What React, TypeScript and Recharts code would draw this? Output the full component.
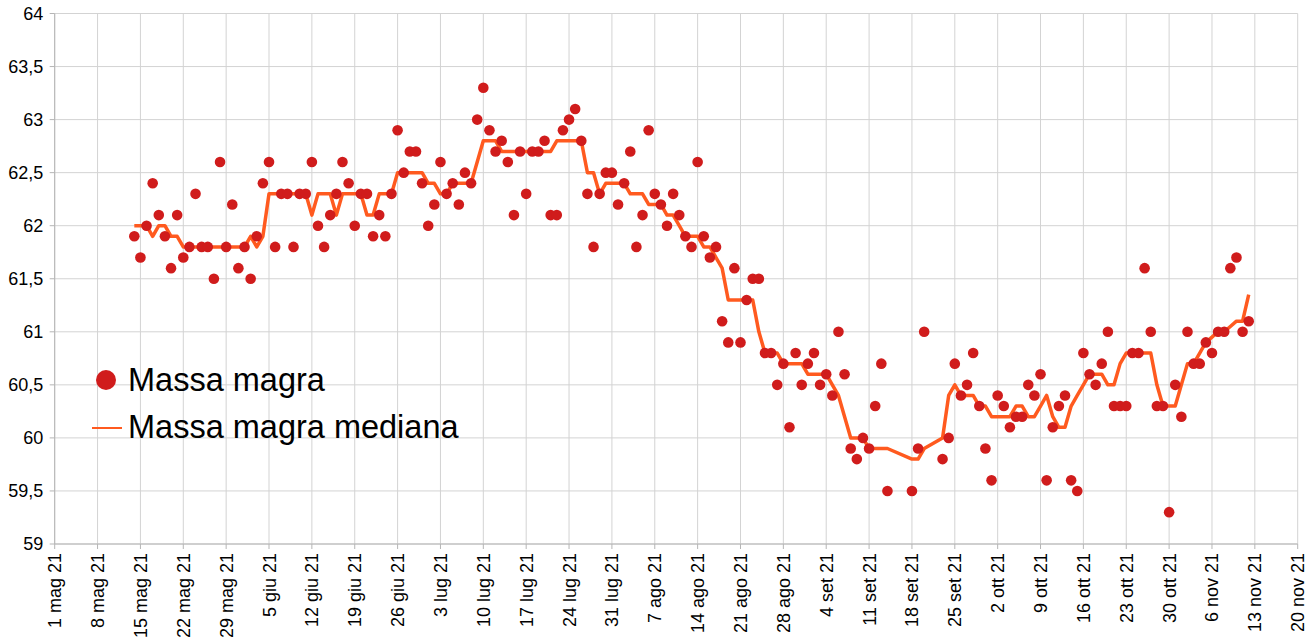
import React from "react";
import { CartesianGrid, ComposedChart, Legend, Line, Scatter, XAxis, YAxis } from "recharts";

const FONT = "'Liberation Sans', Arial, sans-serif";
const DOT_COLOR = "#d01c1c";
const LINE_COLOR = "#ff5a1f";
const GRID_COLOR = "#d3d3d3";
const AXIS_COLOR = "#b5b5b5";

// giorni contati dal 1 mag 21
const days = [
  13, 14, 15, 16, 17, 18, 19, 20, 21, 22,
  23, 24, 25, 26, 27, 28, 29, 30, 31, 32,
  33, 34, 35, 36, 37, 38, 39, 40, 41, 42,
  43, 44, 45, 46, 47, 48, 49, 50, 51, 52,
  53, 54, 55, 56, 57, 58, 59, 60, 61, 62,
  63, 64, 65, 66, 67, 68, 69, 70, 71, 72,
  73, 74, 75, 76, 77, 78, 79, 80, 81, 82,
  83, 84, 85, 86, 87, 88, 89, 90, 91, 92,
  93, 94, 95, 96, 97, 98, 99, 100, 101, 102,
  103, 104, 105, 106, 107, 108, 109, 110, 111, 112,
  113, 114, 115, 116, 117, 118, 119, 120, 121, 122,
  123, 124, 125, 126, 127, 128, 129, 130, 131, 132,
  133, 134, 135, 136,
  140, 141, 142,
  145, 146, 147, 148, 149, 150, 151, 152, 153, 154,
  155, 156, 157, 158, 159, 160, 161, 162, 163, 164,
  165, 166, 167, 168, 169, 170, 171, 172, 173, 174,
  175, 176, 177, 178, 179, 180, 181, 182, 183, 184,
  185, 186, 187, 188, 189, 190, 191, 192, 193, 194, 195,
];

const leanMass = [
  61.9, 61.7, 62.0, 62.4, 62.1, 61.9, 61.6, 62.1, 61.7, 61.8,
  62.3, 61.8, 61.8, 61.5, 62.6, 61.8, 62.2, 61.6, 61.8, 61.5,
  61.9, 62.4, 62.6, 61.8, 62.3, 62.3, 61.8, 62.3, 62.3, 62.6,
  62.0, 61.8, 62.1, 62.3, 62.6, 62.4, 62.0, 62.3, 62.3, 61.9,
  62.1, 61.9, 62.3, 62.9, 62.5, 62.7, 62.7, 62.4, 62.0, 62.2,
  62.6, 62.3, 62.4, 62.2, 62.5, 62.4, 63.0, 63.3, 62.9, 62.7,
  62.8, 62.6, 62.1, 62.7, 62.3, 62.7, 62.7, 62.8, 62.1, 62.1,
  62.9, 63.0, 63.1, 62.8, 62.3, 61.8, 62.3, 62.5, 62.5, 62.2,
  62.4, 62.7, 61.8, 62.1, 62.9, 62.3, 62.2, 62.0, 62.3, 62.1,
  61.9, 61.8, 62.6, 61.9, 61.7, 61.8, 61.1, 60.9, 61.6, 60.9,
  61.3, 61.5, 61.5, 60.8, 60.8, 60.5, 60.7, 60.1, 60.8, 60.5,
  60.7, 60.8, 60.5, 60.6, 60.4, 61.0, 60.6, 59.9, 59.8, 60.0,
  59.9, 60.3, 60.7, 59.5,
  59.5, 59.9, 61.0,
  59.8, 60.0, 60.7, 60.4, 60.5, 60.8, 60.3, 59.9, 59.6, 60.4,
  60.3, 60.1, 60.2, 60.2, 60.5, 60.4, 60.6, 59.6, 60.1, 60.3,
  60.4, 59.6, 59.5, 60.8, 60.6, 60.5, 60.7, 61.0, 60.3, 60.3,
  60.3, 60.8, 60.8, 61.6, 61.0, 60.3, 60.3, 59.3, 60.5, 60.2,
  61.0, 60.7, 60.7, 60.9, 60.8, 61.0, 61.0, 61.6, 61.7, 61.0, 61.1,
];

const leanMassMedian = [
  62.0, 62.0, 62.0, 61.9, 62.0, 62.0, 61.9, 61.9, 61.8, 61.8,
  61.8, 61.8, 61.8, 61.8, 61.8, 61.8, 61.8, 61.8, 61.8, 61.9,
  61.8, 61.9, 62.3, 62.3, 62.3, 62.3, 62.3, 62.3, 62.3, 62.1,
  62.3, 62.3, 62.3, 62.1, 62.3, 62.3, 62.3, 62.3, 62.1, 62.1,
  62.3, 62.3, 62.3, 62.5, 62.5, 62.5, 62.5, 62.5, 62.4, 62.4,
  62.3, 62.3, 62.4, 62.4, 62.4, 62.4, 62.6, 62.8, 62.8, 62.8,
  62.7, 62.7, 62.7, 62.7, 62.7, 62.7, 62.7, 62.7, 62.7, 62.8,
  62.8, 62.8, 62.8, 62.8, 62.5, 62.5, 62.3, 62.4, 62.4, 62.4,
  62.4, 62.3, 62.3, 62.3, 62.2, 62.2, 62.2, 62.1, 62.1, 62.0,
  61.9, 61.9, 61.9, 61.8, 61.8, 61.7, 61.6, 61.3, 61.3, 61.3,
  61.3, 61.3, 61.0, 60.8, 60.8, 60.8, 60.7, 60.7, 60.7, 60.7,
  60.6, 60.6, 60.6, 60.6, 60.5, 60.4, 60.2, 60.0, 60.0, 60.0,
  59.9, 59.9, 59.9, 59.9,
  59.8, 59.8, 59.9,
  60.0, 60.4, 60.5, 60.4, 60.4, 60.4, 60.3, 60.3, 60.2, 60.2,
  60.2, 60.2, 60.3, 60.3, 60.2, 60.2, 60.3, 60.4, 60.2, 60.1,
  60.1, 60.3, 60.4, 60.5, 60.6, 60.6, 60.6, 60.5, 60.5, 60.7,
  60.8, 60.8, 60.8, 60.8, 60.8, 60.5, 60.3, 60.3, 60.3, 60.5,
  60.7, 60.7, 60.8, 60.9, 60.95, 61.0, 61.0, 61.05, 61.1, 61.1, 61.35,
];

const xTicks = [0, 7, 14, 21, 28, 35, 42, 49, 56, 63, 70, 77, 84, 91, 98, 105, 112, 119, 126, 133, 140, 147, 154, 161, 168, 175, 182, 189, 196, 203];
const xTickLabels = [
  "1 mag 21", "8 mag 21", "15 mag 21", "22 mag 21", "29 mag 21",
  "5 giu 21", "12 giu 21", "19 giu 21", "26 giu 21",
  "3 lug 21", "10 lug 21", "17 lug 21", "24 lug 21", "31 lug 21",
  "7 ago 21", "14 ago 21", "21 ago 21", "28 ago 21",
  "4 set 21", "11 set 21", "18 set 21", "25 set 21",
  "2 ott 21", "9 ott 21", "16 ott 21", "23 ott 21", "30 ott 21",
  "6 nov 21", "13 nov 21", "20 nov 21",
];
const yTicks = [59, 59.5, 60, 60.5, 61, 61.5, 62, 62.5, 63, 63.5, 64];

const data = days.map((day, i) => ({ day, mass: leanMass[i], median: leanMassMedian[i] }));

function DateTick(props: any) {
  const { x, y, payload } = props;
  const label = xTickLabels[xTicks.indexOf(payload.value)] ?? "";
  return (
    <text
      x={0}
      y={0}
      transform={`translate(${x + 6.5},${y + 2}) rotate(-90)`}
      textAnchor="end"
      fontSize={18}
      fontFamily={FONT}
      fill="#000"
    >
      {label}
    </text>
  );
}

function Dot(props: any) {
  const { cx, cy } = props;
  if (cx == null || cy == null) return null;
  return <circle cx={cx} cy={cy} r={5.3} fill={DOT_COLOR} />;
}

function LegendBox() {
  return (
    <svg width={430} height={100} style={{ display: "block" }}>
      <circle cx={26} cy={30} r={10} fill={DOT_COLOR} />
      <text x={48} y={41} fontSize={32.5} fontFamily={FONT} fill="#000">
        Massa magra
      </text>
      <line x1={12} y1={78} x2={42} y2={78} stroke={LINE_COLOR} strokeWidth={2} />
      <text x={48} y={88} fontSize={32.5} fontFamily={FONT} fill="#000">
        Massa magra mediana
      </text>
    </svg>
  );
}

export default function App() {
  return (
    <div style={{ position: "absolute", left: 0, top: 0, background: "#fff" }}>
      <ComposedChart
        width={1310}
        height={643}
        data={data}
        margin={{ top: 13.5, right: 12.3, bottom: 0, left: 0 }}
      >
        <CartesianGrid stroke={GRID_COLOR} strokeWidth={1} />
        <XAxis
          dataKey="day"
          type="number"
          domain={[0, 203]}
          ticks={xTicks}
          interval={0}
          height={99}
          tickSize={5}
          tickMargin={2}
          axisLine={{ stroke: AXIS_COLOR }}
          tickLine={{ stroke: AXIS_COLOR }}
          tick={<DateTick />}
        />
        <YAxis
          type="number"
          domain={[59, 64]}
          ticks={yTicks}
          interval={0}
          width={54.7}
          tickSize={5}
          tickMargin={6.5}
          axisLine={{ stroke: AXIS_COLOR }}
          tickLine={{ stroke: AXIS_COLOR }}
          tick={{ fontSize: 18, fontFamily: FONT, fill: "#000" }}
          tickFormatter={(v: number) => String(v).replace(".", ",")}
        />
        <Legend
          layout="vertical"
          align="center"
          verticalAlign="middle"
          wrapperStyle={{ left: 80, top: 350, width: 430, height: 100 }}
          content={<LegendBox />}
        />
        <Line
          type="linear"
          dataKey="median"
          name="Massa magra mediana"
          stroke={LINE_COLOR}
          strokeWidth={3.5}
          strokeLinejoin="round"
          dot={false}
          activeDot={false}
          isAnimationActive={false}
        />
        <Scatter
          dataKey="mass"
          name="Massa magra"
          fill={DOT_COLOR}
          shape={<Dot />}
          isAnimationActive={false}
        />
      </ComposedChart>
    </div>
  );
}
